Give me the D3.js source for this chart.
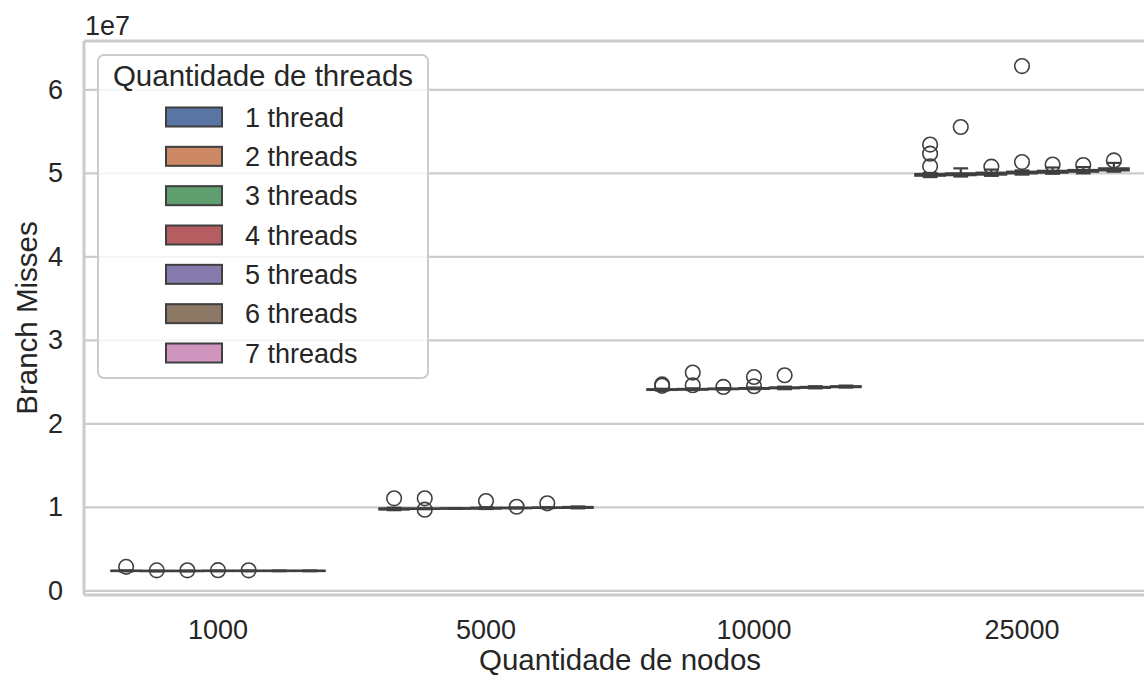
<!DOCTYPE html>
<html>
<head>
<meta charset="utf-8">
<script src="https://cdn.jsdelivr.net/npm/d3@7"></script>
<style>
  html, body { margin: 0; padding: 0; background: #ffffff; }
  svg { display: block; font-family: "Liberation Sans", Arial, sans-serif; }
</style>
</head>
<body>
<svg id="chart" width="1144" height="675"></svg>
<script>
// Node counts on the x axis and thread counts for the hue groups
const categories = ["1000", "5000", "10000", "25000"];
const threadLabels = ["1 thread", "2 threads", "3 threads", "4 threads", "5 threads", "6 threads", "7 threads"];
const threadColors = ["#5975a4", "#cc8963", "#5f9e6e", "#b55d60", "#857aab", "#8d7866", "#d095bf"];
const yTicks = [0, 1e7, 2e7, 3e7, 4e7, 5e7, 6e7];

// Box summaries per thread count: [whisker low, q1, median, q3, whisker high]
const stats1000 = [
  [2.34e6, 2.37e6, 2.39e6, 2.41e6, 2.44e6],
  [2.33e6, 2.36e6, 2.38e6, 2.40e6, 2.42e6],
  [2.33e6, 2.36e6, 2.38e6, 2.40e6, 2.42e6],
  [2.34e6, 2.37e6, 2.39e6, 2.41e6, 2.43e6],
  [2.34e6, 2.37e6, 2.39e6, 2.41e6, 2.43e6],
  [2.35e6, 2.37e6, 2.39e6, 2.41e6, 2.43e6],
  [2.35e6, 2.37e6, 2.39e6, 2.41e6, 2.43e6]
];
const stats5000 = [
  [9.66e6, 9.74e6, 9.80e6, 9.87e6, 9.95e6],
  [9.78e6, 9.81e6, 9.83e6, 9.85e6, 9.88e6],
  [9.81e6, 9.84e6, 9.86e6, 9.88e6, 9.91e6],
  [9.80e6, 9.85e6, 9.89e6, 9.95e6, 10.02e6],
  [9.87e6, 9.90e6, 9.92e6, 9.94e6, 9.98e6],
  [9.90e6, 9.93e6, 9.95e6, 9.97e6, 10.01e6],
  [9.88e6, 9.94e6, 9.98e6, 10.04e6, 10.10e6]
];
const stats10000 = [
  [24.00e6, 24.06e6, 24.10e6, 24.14e6, 24.20e6],
  [24.05e6, 24.10e6, 24.14e6, 24.18e6, 24.25e6],
  [24.10e6, 24.15e6, 24.18e6, 24.22e6, 24.28e6],
  [24.15e6, 24.20e6, 24.24e6, 24.28e6, 24.35e6],
  [24.15e6, 24.26e6, 24.30e6, 24.36e6, 24.45e6],
  [24.25e6, 24.32e6, 24.36e6, 24.42e6, 24.50e6],
  [24.35e6, 24.40e6, 24.44e6, 24.50e6, 24.58e6]
];
const stats25000 = [
  [49.55e6, 49.72e6, 49.80e6, 49.92e6, 50.05e6],
  [49.62e6, 49.78e6, 49.88e6, 50.00e6, 50.60e6],
  [49.70e6, 49.85e6, 49.95e6, 50.08e6, 50.45e6],
  [49.85e6, 50.00e6, 50.08e6, 50.20e6, 50.35e6],
  [49.95e6, 50.08e6, 50.18e6, 50.30e6, 50.70e6],
  [50.00e6, 50.20e6, 50.30e6, 50.40e6, 50.75e6],
  [50.20e6, 50.35e6, 50.48e6, 50.60e6, 51.25e6]
];

// Outlier points per thread count
const outliers1000 = [[2.87e6], [2.45e6], [2.46e6], [2.47e6], [2.46e6], [], []];
const outliers5000 = [[11.08e6], [9.72e6, 11.08e6], [], [10.76e6], [10.07e6], [10.48e6], []];
const outliers10000 = [[24.55e6, 24.72e6], [24.62e6, 26.14e6], [24.42e6], [24.50e6, 25.61e6], [25.82e6], [], []];
const outliers25000 = [[50.85e6, 52.35e6, 53.45e6], [55.55e6], [50.80e6], [51.35e6, 62.85e6], [51.05e6], [51.00e6], [51.55e6]];

const statsByCat = [stats1000, stats5000, stats10000, stats25000];
const outliersByCat = [outliers1000, outliers5000, outliers10000, outliers25000];

const svg = d3.select("#chart");
const textColor = "#262626";
const lineColor = "#3f3f3f";
const gridColor = "#cccccc";

const plot = { left: 84, right: 1156, top: 41, bottom: 595 };

const x = d3.scaleBand().domain(categories).range([plot.left, plot.right]).padding(0);
const y = d3.scaleLinear().domain([-0.5e6, 65.85e6]).range([plot.bottom, plot.top]);

const nHue = threadLabels.length;
const slot = x.bandwidth() * 0.8 / nHue;
const boxW = slot - 1;
const capW = boxW * 0.5;

// Horizontal grid
svg.append("g").selectAll("line").data(yTicks).join("line")
  .attr("x1", plot.left).attr("x2", plot.right)
  .attr("y1", d => y(d)).attr("y2", d => y(d))
  .attr("stroke", gridColor).attr("stroke-width", 2.2);

// Spines (left, top, bottom)
const spines = svg.append("g").attr("stroke", gridColor).attr("stroke-width", 3).attr("fill", "none");
spines.append("line").attr("x1", plot.left).attr("x2", plot.left).attr("y1", plot.top).attr("y2", plot.bottom);
spines.append("line").attr("x1", plot.left).attr("x2", plot.right).attr("y1", plot.top).attr("y2", plot.top);
spines.append("line").attr("x1", plot.left).attr("x2", plot.right).attr("y1", plot.bottom).attr("y2", plot.bottom);

// Y axis tick labels
const yAxis = d3.axisLeft(y).tickValues(yTicks).tickSize(0).tickPadding(21)
  .tickFormat(d => d3.format("d")(d / 1e7));
const gy = svg.append("g").attr("transform", `translate(${plot.left},0)`).call(yAxis);
gy.select(".domain").remove();
gy.selectAll("text").attr("fill", textColor).style("font-size", "27px")
  .style("font-family", "'Liberation Sans', Arial, sans-serif");

// Offset text
svg.append("text").attr("x", plot.left + 1).attr("y", 35)
  .attr("fill", textColor).style("font-size", "27px").text("1e7");

// X axis tick labels
const xAxis = d3.axisBottom(x).tickSize(0).tickPadding(25);
const gx = svg.append("g").attr("transform", `translate(0,${plot.bottom})`).call(xAxis);
gx.select(".domain").remove();
gx.selectAll("text").attr("fill", textColor).style("font-size", "27px")
  .style("font-family", "'Liberation Sans', Arial, sans-serif");

// Axis labels
svg.append("text").attr("x", 620).attr("y", 670).attr("text-anchor", "middle")
  .attr("fill", textColor).style("font-size", "29.5px").text("Quantidade de nodos");
svg.append("text").attr("transform", `translate(37,${(plot.top + plot.bottom) / 2}) rotate(-90)`)
  .attr("text-anchor", "middle").attr("fill", textColor).style("font-size", "29.5px")
  .text("Branch Misses");

// Boxes
const boxes = [];
categories.forEach((c, ci) => {
  statsByCat[ci].forEach((s, hi) => {
    boxes.push({
      cx: x(c) + x.bandwidth() / 2 + (hi - (nHue - 1) / 2) * slot,
      s, hi, out: outliersByCat[ci][hi]
    });
  });
});

const gBox = svg.append("g");
boxes.forEach(b => {
  const g = gBox.append("g");
  const [lo, q1, med, q3, hi] = b.s;
  // whiskers
  g.append("line").attr("x1", b.cx).attr("x2", b.cx).attr("y1", y(q1)).attr("y2", y(lo))
    .attr("stroke", lineColor).attr("stroke-width", 2.2);
  g.append("line").attr("x1", b.cx).attr("x2", b.cx).attr("y1", y(q3)).attr("y2", y(hi))
    .attr("stroke", lineColor).attr("stroke-width", 2.2);
  // caps
  [lo, hi].forEach(v => {
    g.append("line").attr("x1", b.cx - capW / 2).attr("x2", b.cx + capW / 2)
      .attr("y1", y(v)).attr("y2", y(v))
      .attr("stroke", lineColor).attr("stroke-width", 2.2);
  });
  // box
  g.append("rect").attr("x", b.cx - boxW / 2).attr("width", boxW)
    .attr("y", y(q3)).attr("height", Math.max(0.01, y(q1) - y(q3)))
    .attr("fill", threadColors[b.hi]).attr("stroke", lineColor).attr("stroke-width", 2.2);
  // median
  g.append("line").attr("x1", b.cx - boxW / 2).attr("x2", b.cx + boxW / 2)
    .attr("y1", y(med)).attr("y2", y(med))
    .attr("stroke", lineColor).attr("stroke-width", 2.2);
  // outliers
  g.selectAll("circle").data(b.out).join("circle")
    .attr("cx", b.cx).attr("cy", d => y(d)).attr("r", 7.3)
    .attr("fill", "none").attr("stroke", lineColor).attr("stroke-width", 1.6);
});

// Legend
const leg = svg.append("g");
leg.append("rect").attr("x", 98).attr("y", 55).attr("width", 330).attr("height", 323)
  .attr("rx", 6).attr("fill", "rgba(255,255,255,0.8)").attr("stroke", gridColor).attr("stroke-width", 2);
leg.append("text").attr("x", 263).attr("y", 86).attr("text-anchor", "middle")
  .attr("fill", textColor).style("font-size", "29.5px").text("Quantidade de threads");
const rowY = d3.scaleLinear().domain([0, nHue - 1]).range([117, 353]);
threadLabels.forEach((t, i) => {
  leg.append("rect").attr("x", 166).attr("y", rowY(i) - 9.5).attr("width", 56).attr("height", 19)
    .attr("fill", threadColors[i]).attr("stroke", lineColor).attr("stroke-width", 2);
  leg.append("text").attr("x", 245).attr("y", rowY(i) + 9.5)
    .attr("fill", textColor).style("font-size", "27px").text(t);
});
</script>
</body>
</html>
